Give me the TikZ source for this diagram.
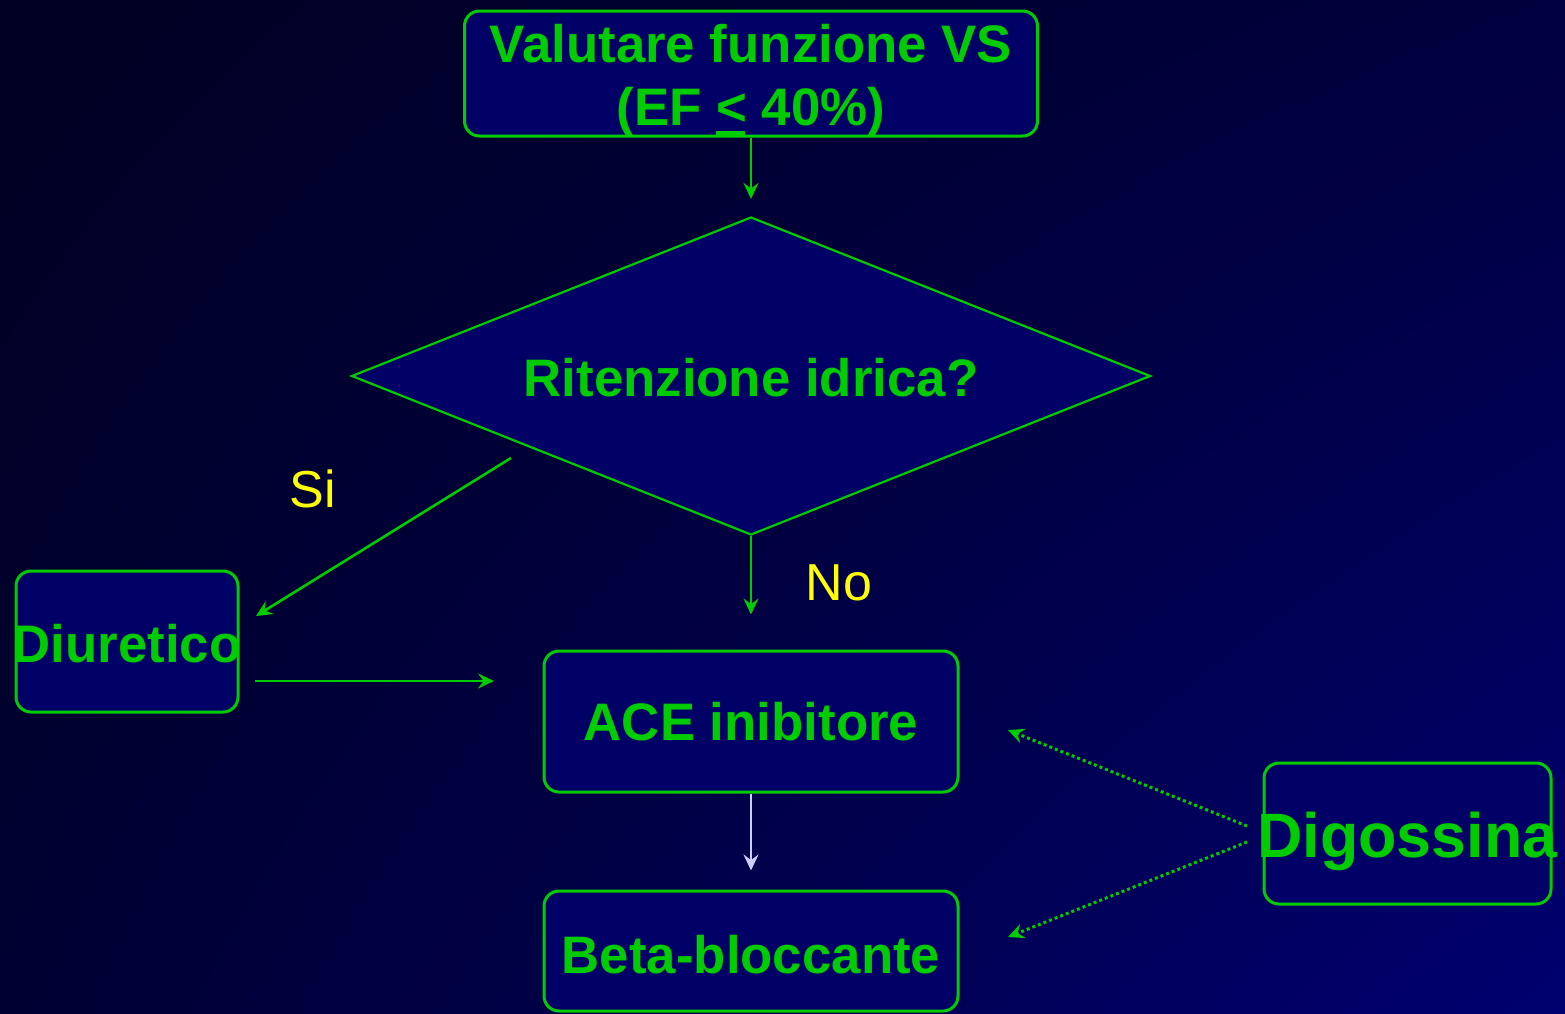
\documentclass[tikz,border=0pt]{standalone}
\usepackage{fontspec}
\setmainfont{Liberation Sans}
\usetikzlibrary{shapes.geometric,arrows.meta,shadings}
\definecolor{bgUL}{RGB}{0,0,34}
\definecolor{bgUR}{RGB}{0,0,62}
\definecolor{bgLL}{RGB}{0,0,50}
\definecolor{bgLR}{RGB}{0,0,112}
\definecolor{boxfill}{RGB}{0,0,102}
\definecolor{grn}{RGB}{0,204,0}
\definecolor{yel}{RGB}{255,255,0}
\definecolor{lav}{RGB}{204,204,255}
\tikzset{
  box/.style={draw=grn, fill=boxfill, line width=1.5pt, rounded corners=7.5pt,
    inner sep=0pt, text=grn, font=\fontsize{26.4pt}{31.5pt}\selectfont\bfseries},
  dia/.style={diamond, draw=grn, fill=boxfill, line width=1.1pt, inner sep=0pt,
    text=grn, font=\fontsize{26.4pt}{31.5pt}\selectfont\bfseries},
  lbl/.style={text=yel, inner sep=0pt, font=\fontsize{26pt}{30pt}\selectfont},
  arr/.style={draw=grn, line width=1.3pt, -{Stealth[length=8pt,width=7.5pt,inset=2.8pt]}},
  dotarr/.style={draw=grn, line width=1.5pt, dash pattern=on 1.5pt off 1.5pt,
    -{Stealth[length=8pt,width=7.5pt,inset=2.8pt]}},
}
\begin{document}
\begin{tikzpicture}[x=0.5pt,y=-0.5pt]
\useasboundingbox (0,0) rectangle (1565,1013);
\shade[upper left=bgUL, upper right=bgUR, lower left=bgLL, lower right=bgLR]
  (0,0) rectangle (1565,1013);

\node[box, minimum width=286.5pt, minimum height=62.5pt, align=center,
  text height=51.5pt, text depth=0pt] (top) at (751,73.5)
  {Valutare funzione VS\\(EF \rlap{\rule[-5pt]{14.5pt}{2pt}}< 40\%)};

\node[dia, minimum width=399.5pt, minimum height=159pt,
  text height=20pt, text depth=0pt] (cond) at (751,376)
  {\makebox[0pt]{Ritenzione idrica?}};

\node[box, minimum width=111pt, minimum height=70.5pt,
  text height=21pt, text depth=0pt] (diu) at (127,641.5)
  {\makebox[0pt]{Diuretico}};

\node[box, minimum width=207pt, minimum height=70.5pt,
  text height=19pt, text depth=0pt] (ace) at (751,721.5)
  {\makebox[0pt]{ACE inibitore}};

\node[box, minimum width=207pt, minimum height=60pt,
  text height=22pt, text depth=0pt] (beta) at (751,951)
  {\makebox[0pt]{Beta-bloccante}};

\node[box, minimum width=143.5pt, minimum height=70.5pt,
  font=\fontsize{31.4pt}{36pt}\selectfont\bfseries,
  text height=24pt, text depth=0pt] (dig) at (1407.5,833.5)
  {\makebox[0pt]{Digossina}};

\node[lbl] (si) at (313,489) {Si};
\node[lbl] (no) at (839,583) {No};

\coordinate (siA) at (511,458);
\coordinate (siB) at (256,616);
\coordinate (diA) at (255,681);
\coordinate (diB) at (494,681);
\coordinate (dg1) at (1247,826);
\coordinate (dg1e) at (1008,730);
\coordinate (dg2) at (1247,842);
\coordinate (dg2e) at (1008,937);

\draw[arr, shorten >=8.5pt] (top.south) -- (cond.north);
\draw[arr] (siA) -- (siB);
\draw[arr, shorten >=17.5pt] (cond.south) -- (ace.north);
\draw[arr] (diA) -- (diB);
\draw[arr, draw=lav, shorten >=9.5pt] (ace.south) -- (beta.north);
\draw[dotarr] (dg1) -- (dg1e);
\draw[dotarr] (dg2) -- (dg2e);
\end{tikzpicture}
\end{document}
